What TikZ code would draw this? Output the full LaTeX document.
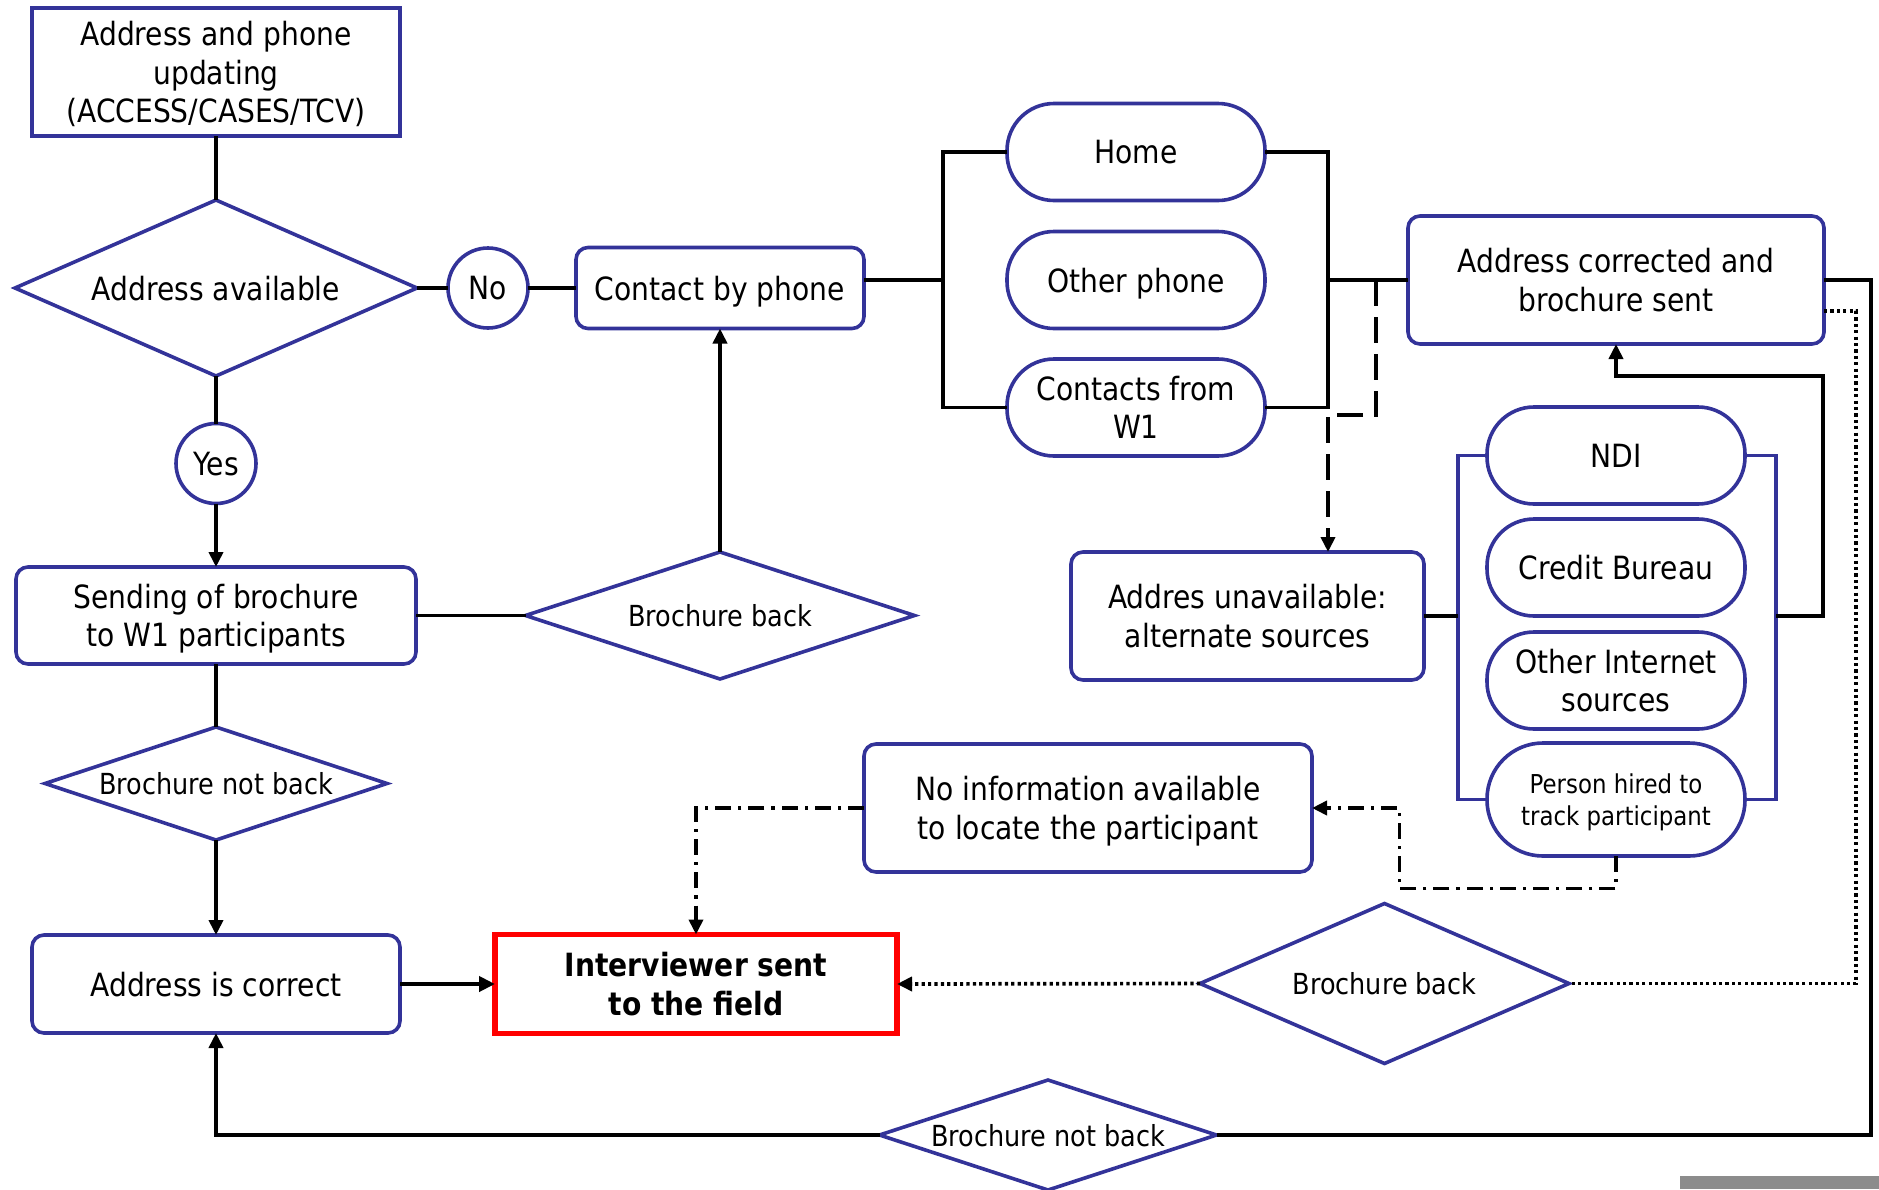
\documentclass[tikz,border=0pt]{standalone}
\usepackage{fontspec}
\setmainfont{DejaVu Sans}[FakeStretch=0.88]
\usetikzlibrary{shapes.geometric,arrows.meta,calc}
\definecolor{bblue}{RGB}{51,51,153}
\definecolor{bred}{RGB}{255,0,0}
\begin{document}
\begin{tikzpicture}[x=0.5pt,y=-0.5pt,
  every node/.style={inner sep=0pt, outer sep=0pt, align=center, text depth=0pt, font=\fontsize{16pt}{19.3pt}\selectfont},
  conn/.style={line width=1.85pt, black},
  tip/.style={-{Triangle[length=7.5pt,width=7pt]}},
  arr/.style={conn, tip},
  box/.style={draw=bblue, line width=1.8pt, rectangle},
  rbox/.style={box, rounded corners=6pt},
  pill/.style={box, rounded corners=23.5pt, minimum width=129pt, minimum height=48.5pt},
  dia/.style={draw=bblue, line width=1.8pt, diamond, font=\fontsize{14.5pt}{17pt}\selectfont},
  circ/.style={draw=bblue, line width=1.8pt, circle, minimum size=40pt},
  dashline/.style={conn, dash pattern=on 13pt off 5.5pt},
  dashdotline/.style={conn, dash pattern=on 8pt off 3.5pt on 1.6pt off 3.5pt},
  dotline/.style={conn, dash pattern=on 1.6pt off 1.6pt},
]
\fill[white] (0,0) rectangle (1879,1189);
\useasboundingbox (0,0) rectangle (1879,1189);
\fill[black!45] (1680,1176) rectangle (1879,1189);

% left column
\node[box, minimum width=184pt, minimum height=64pt] (top) at (216,72) {Address and phone\\updating\\(ACCESS/CASES/TCV)};
\node[dia, minimum width=201pt, minimum height=88pt, shape aspect=2.28, font=\fontsize{16pt}{19.3pt}\selectfont] (avail) at (216,288) {Address available};
\node[circ] (no) at (488,288) {No};
\node[rbox, minimum width=144pt, minimum height=40.5pt] (phone) at (720,288) {Contact by phone};
\node[circ] (yes) at (216,463.5) {Yes};
\node[rbox, minimum width=200pt, minimum height=48.5pt] (send) at (216,615.5) {Sending of brochure\\to W1 participants};
\node[dia, minimum width=194.5pt, minimum height=63.5pt, shape aspect=3.06] (bb1) at (720,615.5) {Brochure back};
\node[dia, minimum width=171pt, minimum height=56.5pt, shape aspect=3.03] (bnb1) at (216,783.5) {Brochure not back};
\node[rbox, minimum width=184pt, minimum height=49pt] (correct) at (216,984) {Address is correct};
\node[draw=bred, line width=2.7pt, minimum width=201pt, minimum height=49.5pt, font=\bfseries\fontsize{16pt}{19.3pt}\selectfont] (interv) at (696,984) {Interviewer sent\\to the field};

% phone group
\node[pill] (home) at (1136,152) {Home};
\node[pill] (other) at (1136,280) {Other phone};
\node[pill] (w1) at (1136,407.5) {Contacts from\\W1};
\node[rbox, minimum width=208pt, minimum height=64pt] (corrected) at (1616,280) {Address corrected and\\brochure sent};
\node[rbox, minimum width=176.5pt, minimum height=64pt] (unavail) at (1247.5,616) {Addres unavailable:\\alternate sources};

% sources group
\node[pill] (ndi) at (1616,455.5) {NDI};
\node[pill] (credit) at (1616,567.5) {Credit Bureau};
\node[pill] (internet) at (1616,680.5) {Other Internet\\sources};
\node[pill, minimum height=56.5pt, rounded corners=28pt, font=\fontsize{13pt}{16pt}\selectfont] (person) at (1616,799.5) {Person hired to\\track participant};
\node[rbox, minimum width=224pt, minimum height=64pt] (noinfo) at (1088,808) {No information available\\to locate the participant};
\node[dia, minimum width=184.5pt, minimum height=80pt, shape aspect=2.3] (bb2) at (1384.5,983.5) {Brochure back};
\node[dia, minimum width=168.5pt, minimum height=55pt, shape aspect=3.06] (bnb2) at (1048,1135) {Brochure not back};

% helper coordinates
\coordinate (bL) at (943,280);
\coordinate (bR) at (1328,280);
\coordinate (dsplit) at (1376,280);
\coordinate (dturn) at (1328,415);
\coordinate (nL) at (1458,616);
\coordinate (nR) at (1776,616);
\coordinate (up1) at (1823,376);
\coordinate (dd1) at (1399.5,888.5);
\coordinate (dotc) at (1856,983.5);
\coordinate (outer) at (1871,1135);

% left column connectors
\draw[conn] (top.south) -- (avail.north);
\draw[conn] (avail.east) -- (no.west);
\draw[conn] (no.east) -- (phone.west);
\draw[conn] (avail.south) -- (yes.north);
\draw[arr] (yes.south) -- (send.north);
\draw[conn] (send.east) -- (bb1.west);
\draw[arr] (bb1.north) -- (phone.south);
\draw[conn] (send.south) -- (bnb1.north);
\draw[arr] (bnb1.south) -- (correct.north);
\draw[conn, line width=2.3pt, -{Triangle[length=8pt,width=7.5pt]}] (correct.east) -- (interv.west);

% phone brackets
\draw[conn] (phone.east |- bL) -- (bL);
\draw[conn] (home.west) -| (bL) |- (w1.west);
\draw[conn] (home.east) -| (bR) |- (w1.east);
\draw[conn] (bR) -- (corrected.west);
\draw[dashline, tip] (dsplit) |- (dturn) -- (dturn |- unavail.north);

% sources bracket
\draw[bblue, line width=1.8pt] (ndi.west) -| (nL) |- (person.west);
\draw[bblue, line width=1.8pt] (ndi.east) -| (nR) |- (person.east);
\draw[conn] (unavail.east) -- (nL);
\draw[arr] (nR) -| (up1) -| (corrected.south);

% dash-dot connectors
\draw[dashdotline, tip] (person.south) |- (dd1) |- (noinfo.east);
\draw[dashdotline, tip] (noinfo.west) -| (interv.north);

% dotted connectors
\draw[dotline] ($(corrected.east)+(0,31)$) -| (dotc) -- (bb2.east);
\draw[dotline, tip] (bb2.west) -- (interv.east);

% outer loop
\draw[conn] (corrected.east) -| (outer) -- (bnb2.east);
\draw[arr] (bnb2.west) -| (correct.south);
\end{tikzpicture}
\end{document}
